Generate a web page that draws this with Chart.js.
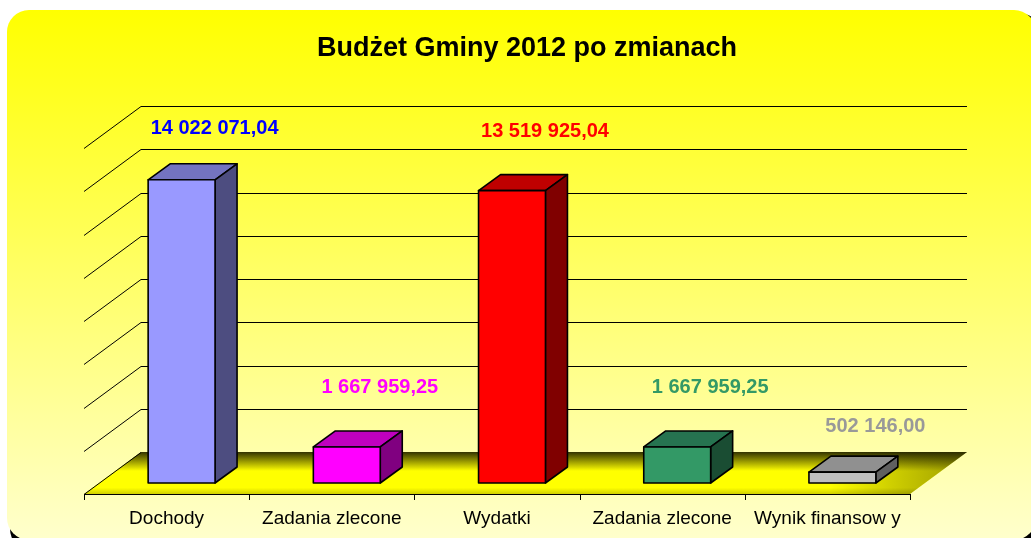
<!DOCTYPE html>
<html>
<head>
<meta charset="utf-8">
<script src="https://cdn.jsdelivr.net/npm/chart.js@4"></script>
<style>
  html, body { margin: 0; padding: 0; background: #fff; }
  canvas { display: block; }
</style>
</head>
<body>
<canvas id="budget" width="1031" height="538"></canvas>
<script>
const categories = ['Dochody', 'Zadania zlecone', 'Wydatki', 'Zadania zlecone', 'Wynik finansow y'];
const amounts = [14022071.04, 1667959.25, 13519925.04, 1667959.25, 502146.00];
const amountLabels = ['14 022 071,04', '1 667 959,25', '13 519 925,04', '1 667 959,25', '502 146,00'];
const gridValues = [0, 2000000, 4000000, 6000000, 8000000, 10000000, 12000000, 14000000, 16000000];

const frontColors = ['#9999ff', '#ff00ff', '#ff0000', '#339966', '#c0c0c0'];
const topColors = ['#7373c0', '#bf00bf', '#bf0000', '#267350', '#909090'];
const sideColors = ['#4d4d80', '#800080', '#800000', '#1a4d33', '#606060'];
const labelColors = ['#0000ff', '#ff00ff', '#ff0000', '#339966', '#999999'];

const FONT = '"Liberation Sans", Arial, sans-serif';
const WALL_DX = 57, WALL_DY = -42;   // depth of the floor / walls
const BAR_X = 15, BAR_Y = -11;       // bars stand a bit behind the front edge
const BAR_DX = 22, BAR_DY = -16;     // bar depth

const box3d = {
    id: 'box3d',
    beforeDraw(chart) {
        const c = chart.ctx;
        const W = chart.width, H = chart.height;
        c.save();
        c.fillStyle = '#ffffff';
        c.fillRect(0, 0, W, H);

        // panel shadow + panel
        c.fillStyle = '#000000';
        c.beginPath();
        c.roundRect(10, 13, W, H, 22);
        c.fill();
        const bg = c.createLinearGradient(0, 10, 0, H);
        bg.addColorStop(0, '#ffff00');
        bg.addColorStop(1, '#ffffcc');
        c.fillStyle = bg;
        c.beginPath();
        c.roundRect(7, 10, W - 2, H - 8, 22);
        c.fill();

        // title
        c.fillStyle = '#000';
        c.font = 'bold 27px ' + FONT;
        c.textAlign = 'center';
        c.textBaseline = 'middle';
        c.fillText('Budżet Gminy 2012 po zmianach', 527, 49);
        c.restore();
    },
    beforeDatasetsDraw(chart) {
        const c = chart.ctx;
        const { left, right, bottom } = chart.chartArea;
        const y = chart.scales.y;
        c.save();

        // floor
        const fl = c.createLinearGradient(0, bottom + WALL_DY, 0, bottom);
        fl.addColorStop(0, '#333300');
        fl.addColorStop(0.45, '#ffff00');
        fl.addColorStop(0.85, '#ffff00');
        fl.addColorStop(1, '#d0d000');
        c.fillStyle = fl;
        c.beginPath();
        c.moveTo(left, bottom);
        c.lineTo(left + WALL_DX, bottom + WALL_DY);
        c.lineTo(right + WALL_DX, bottom + WALL_DY);
        c.lineTo(right, bottom);
        c.closePath();
        c.fill();
        const sh = c.createLinearGradient(right - 80, 0, right + WALL_DX, 0);
        sh.addColorStop(0, 'rgba(0,0,0,0)');
        sh.addColorStop(1, 'rgba(40,40,0,0.45)');
        c.fillStyle = sh;
        c.fill();

        // walls' gridlines
        c.strokeStyle = '#000';
        c.lineWidth = 1;
        gridValues.forEach(v => {
            const py = Math.round(y.getPixelForValue(v)) + 0.5;
            c.beginPath();
            c.moveTo(left, py);
            c.lineTo(left + WALL_DX, py + WALL_DY);
            if (v > 0) c.lineTo(right + WALL_DX, py + WALL_DY);
            c.stroke();
        });

        // front axis with ticks
        c.beginPath();
        c.moveTo(left, bottom + 0.5);
        c.lineTo(right, bottom + 0.5);
        const step = (right - left) / categories.length;
        for (let i = 0; i <= categories.length; i++) {
            const tx = Math.round(left + i * step) + 0.5;
            c.moveTo(tx, bottom);
            c.lineTo(tx, bottom + 6);
        }
        c.stroke();

        // category names
        c.fillStyle = '#000';
        c.font = '19px ' + FONT;
        c.textAlign = 'center';
        c.textBaseline = 'middle';
        categories.forEach((name, i) => {
            c.fillText(name, chart.scales.x.getPixelForValue(i), bottom + 25);
        });
        c.restore();
    },
    afterDatasetsDraw(chart) {
        const c = chart.ctx;
        const meta = chart.getDatasetMeta(0);
        c.save();
        c.lineJoin = 'round';
        c.strokeStyle = '#000';
        c.lineWidth = 1.6;
        meta.data.forEach((bar, i) => {
            const { x, y, base, width } = bar.getProps(['x', 'y', 'base', 'width'], true);
            const x0 = x - width / 2 + BAR_X, x1 = x + width / 2 + BAR_X;
            const y0 = base + BAR_Y, y1 = y + BAR_Y;

            // top
            c.fillStyle = topColors[i];
            c.beginPath();
            c.moveTo(x0, y1);
            c.lineTo(x0 + BAR_DX, y1 + BAR_DY);
            c.lineTo(x1 + BAR_DX, y1 + BAR_DY);
            c.lineTo(x1, y1);
            c.closePath();
            c.fill(); c.stroke();

            // side
            c.fillStyle = sideColors[i];
            c.beginPath();
            c.moveTo(x1, y1);
            c.lineTo(x1 + BAR_DX, y1 + BAR_DY);
            c.lineTo(x1 + BAR_DX, y0 + BAR_DY);
            c.lineTo(x1, y0);
            c.closePath();
            c.fill(); c.stroke();

            // front
            c.fillStyle = frontColors[i];
            c.beginPath();
            c.rect(x0, y1, x1 - x0, y0 - y1);
            c.fill(); c.stroke();

            // value label, kept inside the plot
            const lift = Math.min(70, 30 + (base - y) * 2.5);
            const ly = Math.max(y - lift, chart.chartArea.top - 20);
            c.fillStyle = labelColors[i];
            c.font = 'bold 20px ' + FONT;
            c.textAlign = 'center';
            c.textBaseline = 'middle';
            c.fillText(amountLabels[i], x + 48, ly);
        });
        c.restore();
    }
};

new Chart(document.getElementById('budget'), {
    type: 'bar',
    data: {
        labels: categories,
        datasets: [{
            data: amounts,
            backgroundColor: 'rgba(0,0,0,0)',
            borderWidth: 0,
            barPercentage: 0.405,
            categoryPercentage: 1
        }]
    },
    options: {
        responsive: false,
        animation: false,
        devicePixelRatio: 1,
        layout: { padding: { left: 84, right: 121, top: 148, bottom: 44 } },
        scales: {
            x: { display: false },
            y: { display: false, min: 0, max: 16000000 }
        },
        plugins: {
            legend: { display: false },
            tooltip: { enabled: false }
        }
    },
    plugins: [box3d]
});
</script>
</body>
</html>
